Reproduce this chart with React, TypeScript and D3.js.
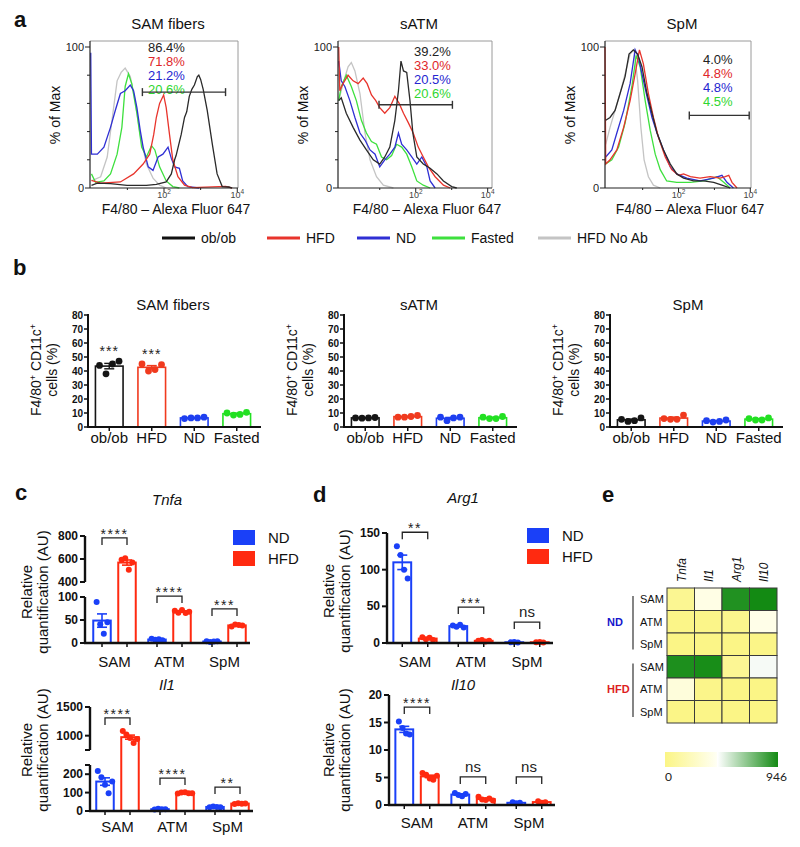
import React from "react";
import * as d3 from "d3";

const FONT = "'Liberation Sans', Arial, Helvetica, sans-serif";

// ---------- a: flow histograms, points are [log10 intensity, % of max] ----------
const samOb = [[0.02,1.9],[0.18,3.5],[0.54,3.1],[0.99,1.9],[1.52,1.9],[1.79,2.6],[2.06,4.3],[2.2,10],[2.29,20],[2.33,23],[2.47,38],[2.56,50],[2.62,54],[2.69,65],[2.76,70],[2.83,73],[2.91,79],[2.95,80],[3.0,77],[3.07,70],[3.18,55],[3.32,31],[3.45,10],[3.59,1],[3.77,0.7],[3.86,0]];
const samHfd = [[0.02,5.4],[0.27,3.5],[0.81,4.3],[1.17,10],[1.43,17],[1.61,24],[1.72,38],[1.79,50],[1.88,60],[1.99,66],[2.06,57],[2.15,38],[2.24,20],[2.38,8],[2.56,2],[2.78,0.2],[3.68,1.2],[3.86,0]];
const samNd = [[0.0,96],[0.02,24],[0.18,24],[0.36,29],[0.54,43],[0.67,55],[0.81,67],[0.94,69],[1.08,73],[1.17,69],[1.26,57],[1.35,41],[1.43,29],[1.57,15],[1.7,12.5],[1.84,22],[1.97,24],[2.11,29],[2.2,21],[2.29,15],[2.42,14],[2.51,5],[2.65,1],[2.96,0]];
const samFasted = [[0.02,10],[0.13,4],[0.36,5],[0.54,10],[0.72,24],[0.85,43],[0.94,72],[1.03,81],[1.12,74],[1.26,53],[1.39,29],[1.52,22],[1.66,30],[1.75,27],[1.88,15],[2.06,5],[2.24,1],[2.42,0]];
const samNoAb = [[0.02,5],[0.27,8],[0.45,22],[0.58,48],[0.72,76],[0.83,82],[0.94,85],[1.08,79],[1.21,62],[1.35,38],[1.52,17],[1.7,7],[1.88,2],[2.06,0]];

const atmOb = [[-0.14,62],[-0.07,64],[0.07,53],[0.26,43],[0.45,34],[0.63,27],[0.82,20],[1.0,17],[1.14,22],[1.28,29],[1.42,48],[1.52,69],[1.59,90],[1.66,83],[1.75,82],[1.84,62],[1.92,39],[2.03,22],[2.21,17],[2.4,14],[2.59,10],[2.77,5],[3.0,1],[3.14,0]];
const atmHfd = [[-0.14,100],[-0.11,69],[-0.02,74],[0.12,80],[0.26,76],[0.4,74],[0.54,78],[0.65,74],[0.77,66],[0.89,62],[1.0,57],[1.14,53],[1.28,57],[1.42,65],[1.54,60],[1.66,53],[1.8,46],[1.93,39],[2.07,29],[2.21,22],[2.35,15],[2.54,8],[2.77,2],[2.96,0]];
const atmNd = [[-0.14,90],[-0.07,76],[0.03,72],[0.17,62],[0.31,50],[0.45,39],[0.59,34],[0.73,27],[0.87,24],[1.0,15],[1.14,20],[1.28,24],[1.42,29],[1.52,39],[1.61,31],[1.75,27],[1.89,22],[2.03,17],[2.17,22],[2.31,15],[2.4,5],[2.54,0]];
const atmFasted = [[-0.14,62],[-0.07,72],[0.07,80],[0.21,72],[0.35,62],[0.49,48],[0.63,39],[0.77,33],[0.91,31],[1.05,22],[1.19,20],[1.33,23],[1.47,31],[1.61,29],[1.75,24],[1.89,15],[2.03,5],[2.21,2],[2.4,0]];
const atmNoAb = [[-0.14,62],[-0.02,74],[0.12,86],[0.21,89],[0.31,83],[0.45,67],[0.59,39],[0.73,20],[0.91,8],[1.1,2],[1.38,0]];

const spmOb = [[-0.03,48],[0.09,50],[0.23,55],[0.37,67],[0.51,79],[0.62,95],[0.74,98],[0.86,95],[0.98,86],[1.12,67],[1.26,53],[1.4,39],[1.58,27],[1.77,17],[1.95,10],[2.14,7],[2.42,5],[2.7,5],[2.98,4],[3.21,2],[3.44,0]];
const spmHfd = [[-0.05,100],[-0.03,17],[0.09,20],[0.28,27],[0.47,43],[0.65,62],[0.79,81],[0.91,98],[1.02,88],[1.16,67],[1.3,50],[1.44,36],[1.63,22],[1.81,13],[2.0,9],[2.14,10],[2.33,8],[2.6,7],[2.88,8],[3.16,7],[3.3,8],[3.4,9],[3.49,4],[3.63,0]];
const spmNd = [[-0.03,22],[0.14,27],[0.28,39],[0.47,55],[0.65,74],[0.79,98],[0.88,93],[0.98,81],[1.12,65],[1.26,50],[1.4,39],[1.58,27],[1.77,15],[1.95,10],[2.23,7],[2.6,5],[2.98,7],[3.21,9],[3.35,4],[3.53,0]];
const spmFasted = [[-0.03,17],[0.14,20],[0.33,29],[0.51,46],[0.7,72],[0.82,94],[0.93,86],[1.07,62],[1.21,41],[1.35,24],[1.49,13],[1.67,5],[1.95,4],[2.33,4],[2.7,5],[3.07,8],[3.26,4],[3.44,0]];
const spmNoAb = [[-0.03,31],[0.09,43],[0.23,55],[0.37,67],[0.51,81],[0.65,95],[0.76,98],[0.86,76],[0.95,43],[1.04,20],[1.16,8],[1.3,2],[1.49,0]];

const histSeries = ["ob/ob", "HFD", "ND", "Fasted", "HFD No Ab"];
const samPcts = ["86.4%", "71.8%", "21.2%", "20.6%"];
const atmPcts = ["39.2%", "33.0%", "20.5%", "20.6%"];
const spmPcts = ["4.0%", "4.8%", "4.8%", "4.5%"];
// gate: [from, to, height in % of max]
const samGate = [1.41, 3.68, 68];
const atmGate = [0.98, 3.02, 59];
const spmGate = [2.3, 3.97, 51.5];

// ---------- b: F4/80+ CD11c+ cells (%) ----------
const bCats = ["ob/ob", "HFD", "ND", "Fasted"];
const bSamPts = [[44, 38, 45, 47], [45, 40, 41, 44.5], [6, 6.5, 6.5, 7], [10, 8.5, 9, 10.5]];
const bAtmPts = [[6.5, 6.3, 6.5, 6.8], [7, 7, 7.5, 8.2], [7, 4.5, 6.5, 7], [7, 6, 6, 7.5]];
const bSpmPts = [[5.5, 4, 4.5, 6.5], [6, 5.5, 5.5, 8.5], [4.5, 3.5, 4, 5], [6, 5, 5, 6.5]];
const bSamStars = ["***", "***", "", ""];

// ---------- c, d: qPCR, relative quantification (AU) ----------
const qCats = ["SAM", "ATM", "SpM"];
const tnfaNd = [[89, 41, 20, 45], [9, 7, 8, 6], [4, 2, 3, 4]];
const tnfaHfd = [[593, 607, 506, 570], [70, 66, 72, 65, 68], [36, 40, 39, 38]];
const tnfaSig = ["****", "****", "***"];
const tnfaSigAt = [783, 102, 74];
const il1Nd = [[217, 183, 143, 96, 161], [8, 12, 10, 9], [20, 25, 22, 21]];
const il1Hfd = [[1080, 1020, 960, 870, 940], [95, 100, 102, 97, 96], [38, 42, 40, 41]];
const il1Sig = ["****", "****", "**"];
const il1SigAt = [1310, 179, 130];
const arg1Nd = [[132, 120, 100, 88], [24, 22, 25, 21], [1, 1.2, 0.8]];
const arg1Hfd = [[8, 5, 7, 4], [3, 4, 2, 3], [1, 1.2, 0.8]];
const arg1Sig = ["**", "***", "ns"];
const arg1SigAt = [151, 49, 28.6];
const il10Nd = [[15.2, 14, 13, 12.8], [2.2, 1.8, 1.6, 2], [0.5, 0.3, 0.4]];
const il10Hfd = [[5.8, 5.5, 4.8, 4.6, 5.3], [1.5, 1, 0.9, 1.2, 0.8], [0.7, 0.4, 0.5]];
const il10Sig = ["****", "ns", "ns"];
const il10SigAt = [17.8, 5.1, 5.1];

// ---------- e: heatmap ----------
const hmCols = ["Tnfa", "Il1", "Arg1", "Il10"];
const hmRows = ["SAM", "ATM", "SpM"];
const hmGroups = ["ND", "HFD"];
const hmNd = [[50, 380, 915, 946], [10, 15, 30, 390], [5, 8, 3, 10]];
const hmHfd = [[925, 935, 60, 460], [340, 20, 5, 3], [8, 10, 2, 1]];
const hmMax = 946;

const HIST_COLORS = ["#2a2a2a", "#e8342c", "#2f2fd4", "#3ee03e", "#c4c4c4"];
const PCT_COLORS = ["#222222", "#e0262a", "#2525d0", "#2fd62f"];
const B_COLORS = ["#151515", "#f03a1e", "#1e3ff0", "#22e022"];
const ND_COL = "#1a40f8";
const HFD_COL = "#ff2a10";

function Histogram({ left, right, domain, title, curves, pcts, pctX, pctY, gate }: any) {
  const top = 41, bottom = 188;
  const x = d3.scaleLinear().domain(domain).range([left, right]);
  const y = d3.scaleLinear().domain([0, 100]).range([bottom, 47]);
  const line = d3.line<any>().x((d) => x(d[0])).y((d) => y(d[1]));
  const cx = (left + right) / 2;
  const order = [4, 3, 2, 1, 0];
  return (
    <g fontFamily={FONT}>
      <text x={cx + 4} y={29} textAnchor="middle" fontSize={15} fill="#111">{title}</text>
      <path d={`M${left},${top}H${right}V${bottom}`} fill="none" stroke="#9a9a9a" strokeWidth={1} />
      {order.map((i) => (
        <path key={i} d={line(curves[i]) || ""} fill="none" stroke={HIST_COLORS[i]} strokeWidth={1.3} />
      ))}
      <line x1={left} x2={left} y1={top} y2={bottom} stroke="#222" strokeWidth={1.2} />
      <line x1={left} x2={right} y1={bottom} y2={bottom} stroke="#222" strokeWidth={1.2} />
      {[0, 20, 40, 60, 80, 100].map((v) => (
        <line key={v} x1={left - (v % 100 === 0 ? 5 : 3)} x2={left} y1={y(v)} y2={y(v)} stroke="#222" />
      ))}
      {[0, 100].map((v) => (
        <text key={v} x={left - 6} y={y(v) + 4} textAnchor="end" fontSize={11} fill="#222">{v}</text>
      ))}
      {[1, 2, 3, 4].map((d) => (
        <line key={d} x1={x(d)} x2={x(d)} y1={bottom} y2={bottom + (d % 2 === 0 ? 4 : 2)} stroke="#222" />
      ))}
      {[2, 4].map((d) => (
        <text key={d} x={x(d)} y={198} textAnchor="middle" fontSize={9} fill="#444">
          10<tspan dy={-4} fontSize={6.5}>{d}</tspan>
        </text>
      ))}
      <text transform={`translate(${left - 30},${115}) rotate(-90)`} textAnchor="middle" fontSize={14} fill="#111">% of Max</text>
      <text x={cx + 12} y={214} textAnchor="middle" fontSize={14} fill="#111">F4/80 – Alexa Fluor 647</text>
      {pcts.map((p: string, i: number) => (
        <text key={p + i} x={pctX} y={pctY + i * 14} fontSize={13} fill={PCT_COLORS[i]}>{p}</text>
      ))}
      <g stroke="#333" strokeWidth={1.4}>
        <line x1={x(gate[0])} x2={x(gate[1])} y1={y(gate[2])} y2={y(gate[2])} />
        <line x1={x(gate[0])} x2={x(gate[0])} y1={y(gate[2]) - 4} y2={y(gate[2]) + 4} />
        <line x1={x(gate[1])} x2={x(gate[1])} y1={y(gate[2]) - 4} y2={y(gate[2]) + 4} />
      </g>
    </g>
  );
}

function HistLegend() {
  const starts = [162, 267, 357, 432, 538];
  return (
    <g fontFamily={FONT}>
      {histSeries.map((s, i) => (
        <g key={s}>
          <line x1={starts[i]} x2={starts[i] + 33} y1={238} y2={238} stroke={i === 0 ? "#111" : HIST_COLORS[i]} strokeWidth={3} />
          <text x={starts[i] + 39} y={243} fontSize={14} fill="#111">{s}</text>
        </g>
      ))}
    </g>
  );
}

function PctBars({ x0, title, titleX, pts, stars }: any) {
  const x = d3.scaleBand().domain(bCats).range([x0, x0 + 170]).paddingInner(0.35).paddingOuter(0.175);
  const y = d3.scaleLinear().domain([0, 80]).range([427, 315]);
  const bw = x.bandwidth();
  return (
    <g fontFamily={FONT}>
      <text x={titleX} y={310} textAnchor="middle" fontSize={15} fill="#111">{title}</text>
      {bCats.map((c, i) => {
        const p = pts[i];
        const m = d3.mean(p) as number;
        const sem = (d3.deviation(p) as number) / Math.sqrt(p.length);
        const bx = x(c) as number;
        const cx = bx + bw / 2;
        const col = B_COLORS[i];
        return (
          <g key={c}>
            <rect x={bx} y={y(m)} width={bw} height={y(0) - y(m)} fill="#fff" stroke={col} strokeWidth={1.6} />
            <g stroke={col} strokeWidth={1.4}>
              <line x1={cx} x2={cx} y1={y(m + sem)} y2={y(m - sem)} />
              <line x1={cx - 5} x2={cx + 5} y1={y(m + sem)} y2={y(m + sem)} />
              <line x1={cx - 5} x2={cx + 5} y1={y(m - sem)} y2={y(m - sem)} />
            </g>
            {p.map((v: number, j: number) => (
              <circle key={j} cx={cx + (j - (p.length - 1) / 2) * 6.5} cy={y(v)} r={3.4} fill={col} />
            ))}
            {stars && stars[i] ? (
              <text x={cx} y={y(d3.max(p) as number) - 13 + 8} textAnchor="middle" fontSize={14} letterSpacing={1} fill="#222">{stars[i]}</text>
            ) : null}
            <line x1={cx} x2={cx} y1={427} y2={431} stroke="#111" strokeWidth={1.5} />
            <text x={cx} y={443} textAnchor="middle" fontSize={15} fill="#111">{c}</text>
          </g>
        );
      })}
      <line x1={x0} x2={x0} y1={427} y2={314} stroke="#111" strokeWidth={2} />
      <line x1={x0 - 1} x2={x0 + 173} y1={427} y2={427} stroke="#111" strokeWidth={2} />
      {d3.range(0, 81, 10).map((v) => (
        <g key={v}>
          <line x1={x0 - 4} x2={x0} y1={y(v)} y2={y(v)} stroke="#111" strokeWidth={1.5} />
          <text x={x0 - 5} y={y(v) + 3.5} textAnchor="end" fontSize={10} fontWeight="bold" fill="#111">{v}</text>
        </g>
      ))}
      <text transform={`translate(${x0 - 47},370) rotate(-90)`} textAnchor="middle" fontSize={14} fill="#111">
        F4/80<tspan dy={-5} fontSize={9}>+</tspan><tspan dy={5}> CD11c</tspan><tspan dy={-5} fontSize={9}>+</tspan>
      </text>
      <text transform={`translate(${x0 - 31},370) rotate(-90)`} textAnchor="middle" fontSize={14} fill="#111">cells (%)</text>
    </g>
  );
}

function QpcrChart({ axisX, groupRange, title, titleX, titleY, lower, upper, nd, hfd, sig, sigAt, catY, yLabX, yLabY, legend }: any) {
  const gx = d3.scaleBand().domain(qCats).range(groupRange);
  const half = gx.step() / 2;
  const sub = d3.scaleBand().domain(["ND", "HFD"]).range([-half, half]).paddingInner(0.3).paddingOuter(0.25);
  const bw = sub.bandwidth();
  const yl = d3.scaleLinear().domain(lower.domain).range(lower.range);
  const yu = upper ? d3.scaleLinear().domain(upper.domain).range(upper.range) : null;
  const yv = (v: number) => (yu && v >= upper.domain[0] ? yu(v) : yl(v));
  const y0 = yl(0);
  const bars: any[] = [];
  qCats.forEach((c, gi) => {
    [["ND", nd[gi], ND_COL], ["HFD", hfd[gi], HFD_COL]].forEach(([k, p, col]: any) => {
      const m = d3.mean(p) as number;
      const sem = (d3.deviation(p) as number) / Math.sqrt(p.length);
      const bx = (gx(c) as number) + half + (sub(k) as number);
      bars.push({ key: c + k, bx, cx: bx + bw / 2, m, sem, p, col });
    });
  });
  const tickSet = (seg: any, scale: any) =>
    seg.ticks.map((v: number) => (
      <g key={v}>
        <line x1={axisX - 5} x2={axisX} y1={scale(v)} y2={scale(v)} stroke="#111" strokeWidth={2} />
        {seg.labels.includes(v) ? (
          <text x={axisX - 7} y={scale(v) + 4} textAnchor="end" fontSize={12} fontWeight="bold" fill="#111">{v}</text>
        ) : null}
      </g>
    ));
  return (
    <g fontFamily={FONT}>
      <text x={titleX} y={titleY} textAnchor="middle" fontSize={15} fontStyle="italic" fill="#111">{title}</text>
      {bars.map((b) => (
        <g key={b.key}>
          <rect x={b.bx} y={yv(b.m)} width={bw} height={y0 - yv(b.m)} fill="#fff" stroke={b.col} strokeWidth={2} />
          <g stroke={b.col} strokeWidth={1.6}>
            <line x1={b.cx} x2={b.cx} y1={yv(b.m + b.sem)} y2={yv(b.m - b.sem)} />
            <line x1={b.cx - 5} x2={b.cx + 5} y1={yv(b.m + b.sem)} y2={yv(b.m + b.sem)} />
            <line x1={b.cx - 5} x2={b.cx + 5} y1={yv(b.m - b.sem)} y2={yv(b.m - b.sem)} />
          </g>
          {b.p.map((v: number, j: number) => (
            <circle key={j} cx={b.cx + (j - (b.p.length - 1) / 2) * 3.6} cy={yv(v)} r={3} fill={b.col} />
          ))}
          <line x1={b.cx} x2={b.cx} y1={y0} y2={y0 + 4} stroke="#111" strokeWidth={1.5} />
        </g>
      ))}
      {qCats.map((c, gi) => {
        const xl = bars[gi * 2].cx, xr = bars[gi * 2 + 1].cx;
        const yb = yv(sigAt[gi]);
        const ns = sig[gi] === "ns";
        return (
          <g key={c}>
            <path d={`M${xl},${yb + 7}V${yb}H${xr}V${yb + 7}`} fill="none" stroke="#222" strokeWidth={1.3} />
            <text x={(xl + xr) / 2} y={ns ? yb - 5 : yb + 1} textAnchor="middle" fontSize={ns ? 15 : 14} letterSpacing={ns ? 0 : 1.5} fill="#222">{sig[gi]}</text>
            <text x={(gx(c) as number) + half} y={catY} textAnchor="middle" fontSize={15} fill="#111">{c}</text>
          </g>
        );
      })}
      <line x1={axisX} x2={axisX} y1={yl(lower.domain[0]) + 1} y2={yl(lower.domain[1])} stroke="#111" strokeWidth={2.4} />
      {yu ? <line x1={axisX} x2={axisX} y1={yu(upper.domain[0])} y2={yu(upper.domain[1])} stroke="#111" strokeWidth={2.4} /> : null}
      <line x1={axisX - 1} x2={groupRange[1] - 2} y1={y0} y2={y0} stroke="#111" strokeWidth={2.4} />
      {tickSet(lower, yl)}
      {yu ? tickSet(upper, yu) : null}
      <text transform={`translate(${yLabX[0]},${yLabY}) rotate(-90)`} textAnchor="middle" fontSize={15} fill="#111">Relative</text>
      <text transform={`translate(${yLabX[1]},${yLabY}) rotate(-90)`} textAnchor="middle" fontSize={15} fill="#111">quantification (AU)</text>
      {legend ? (
        <g>
          {["ND", "HFD"].map((k, i) => (
            <g key={k}>
              <rect x={legend[0]} y={legend[1] + i * 21} width={22} height={15} fill={i === 0 ? ND_COL : HFD_COL} />
              <text x={legend[0] + 35} y={legend[1] + i * 21 + 13} fontSize={15} fill="#111">{k}</text>
            </g>
          ))}
        </g>
      ) : null}
    </g>
  );
}

function Heatmap() {
  const x = d3.scaleBand().domain(hmCols).range([667, 777]);
  const rowKeys = hmGroups.flatMap((g) => hmRows.map((r) => g + r));
  const y = d3.scaleBand().domain(rowKeys).range([588, 723]);
  const color = d3.scaleLinear<string>().domain([0, 430, 440, hmMax]).range(["#fbf585", "#fffff2", "#ffffff", "#138a13"]);
  const values = [hmNd, hmHfd];
  const cb = d3.scaleLinear().domain([0, hmMax]).range([665, 778]);
  return (
    <g fontFamily={FONT}>
      <defs>
        <linearGradient id="hmgrad" x1="0" x2="1" y1="0" y2="0">
          {[0, 430, 440, hmMax].map((v) => (
            <stop key={v} offset={v / hmMax} stopColor={color(v)} />
          ))}
        </linearGradient>
      </defs>
      {hmGroups.map((g, gi) =>
        hmRows.map((r, ri) =>
          hmCols.map((c, ci) => (
            <rect key={g + r + c} x={x(c)} y={y(g + r)} width={x.bandwidth()} height={y.bandwidth()}
              fill={color(values[gi][ri][ci])} stroke="#3a3a3a" strokeWidth={1} />
          ))
        )
      )}
      {hmCols.map((c) => (
        <text key={c} transform={`translate(${(x(c) as number) + x.bandwidth() / 2 + 5},582) rotate(-90)`}
          fontSize={12} fontStyle="italic" fill="#111">{c}</text>
      ))}
      {rowKeys.map((k, i) => (
        <text key={k} x={640} y={(y(k) as number) + y.bandwidth() / 2 + 4} fontSize={11} fill="#111">{hmRows[i % 3]}</text>
      ))}
      {hmGroups.map((g, gi) => {
        const yt = y(g + "SAM") as number, yb = (y(g + "SpM") as number) + y.bandwidth();
        return (
          <g key={g}>
            <line x1={633} x2={633} y1={yt + 8} y2={yb - 6} stroke="#333" strokeWidth={1.2} />
            <text x={607} y={(yt + yb) / 2 + 4} fontSize={11} fontWeight="bold" fill={gi === 0 ? "#1515cc" : "#dd1e1e"}>{g}</text>
          </g>
        );
      })}
      <rect x={cb(0)} y={752} width={cb(hmMax) - cb(0)} height={15} fill="url(#hmgrad)" />
      <text x={cb(0)} y={781} fontSize={12} fill="#222" fontFamily="Lato, 'Open Sans', sans-serif">0</text>
      <text x={cb(hmMax) + 9} y={781} fontSize={12} textAnchor="end" fill="#222" fontFamily="Lato, 'Open Sans', sans-serif">{hmMax}</text>
    </g>
  );
}

export default function App() {
  const letter = (t: string, x: number, y: number) => (
    <text x={x} y={y} fontSize={22} fontWeight="bold" fontFamily={FONT} fill="#111">{t}</text>
  );
  return (
    <svg width={800} height={847} style={{ position: "absolute", left: 0, top: 0, background: "#fff" }}>
      <rect width={800} height={847} fill="#fff" />
      {letter("a", 14, 27)}
      {letter("b", 13, 275)}
      {letter("c", 15, 500)}
      {letter("d", 313, 502)}
      {letter("e", 602, 502)}

      <Histogram left={90} right={238} domain={[-0.02, 4.02]} title="SAM fibers"
        curves={[samOb, samHfd, samNd, samFasted, samNoAb]} pcts={samPcts} pctX={148} pctY={52} gate={samGate} />
      <Histogram left={338} right={492} domain={[-0.16, 4.12]} title="sATM"
        curves={[atmOb, atmHfd, atmNd, atmFasted, atmNoAb]} pcts={atmPcts} pctX={414} pctY={56} gate={atmGate} />
      <Histogram left={605} right={751} domain={[-0.05, 4.02]} title="SpM"
        curves={[spmOb, spmHfd, spmNd, spmFasted, spmNoAb]} pcts={spmPcts} pctX={703} pctY={64} gate={spmGate} />
      <HistLegend />

      <PctBars x0={88} title="SAM fibers" titleX={173} pts={bSamPts} stars={bSamStars} />
      <PctBars x0={344} title="sATM" titleX={419} pts={bAtmPts} />
      <PctBars x0={610} title="SpM" titleX={688} pts={bSpmPts} />

      <QpcrChart axisX={85} groupRange={[87, 252]} title="Tnfa" titleX={167} titleY={505}
        lower={{ domain: [0, 100], range: [643, 597], ticks: [0, 50, 100], labels: [0, 50, 100] }}
        upper={{ domain: [400, 800], range: [582, 536], ticks: [400, 600, 800], labels: [400, 600, 800] }}
        nd={tnfaNd} hfd={tnfaHfd} sig={tnfaSig} sigAt={tnfaSigAt} catY={667} yLabX={[32, 48]} yLabY={592} legend={[233, 530]} />
      <QpcrChart axisX={90} groupRange={[90, 255]} title="Il1" titleX={167} titleY={690}
        lower={{ domain: [0, 250], range: [811, 765], ticks: [0, 100, 200, 250], labels: [0, 100, 200] }}
        upper={{ domain: [750, 1500], range: [750, 707], ticks: [750, 1000, 1500], labels: [1000, 1500] }}
        nd={il1Nd} hfd={il1Hfd} sig={il1Sig} sigAt={il1SigAt} catY={832} yLabX={[32, 48]} yLabY={750} />
      <QpcrChart axisX={387} groupRange={[387, 555]} title="Arg1" titleX={463} titleY={503}
        lower={{ domain: [0, 150], range: [643, 533], ticks: [0, 50, 100, 150], labels: [0, 50, 100, 150] }}
        nd={arg1Nd} hfd={arg1Hfd} sig={arg1Sig} sigAt={arg1SigAt} catY={667} yLabX={[334, 350]} yLabY={591} legend={[527, 528]} />
      <QpcrChart axisX={389} groupRange={[389, 557]} title="Il10" titleX={463} titleY={690}
        lower={{ domain: [0, 20], range: [805, 695], ticks: [0, 5, 10, 15, 20], labels: [0, 5, 10, 15, 20] }}
        nd={il10Nd} hfd={il10Hfd} sig={il10Sig} sigAt={il10SigAt} catY={828} yLabX={[334, 350]} yLabY={750} />

      <Heatmap />
    </svg>
  );
}
